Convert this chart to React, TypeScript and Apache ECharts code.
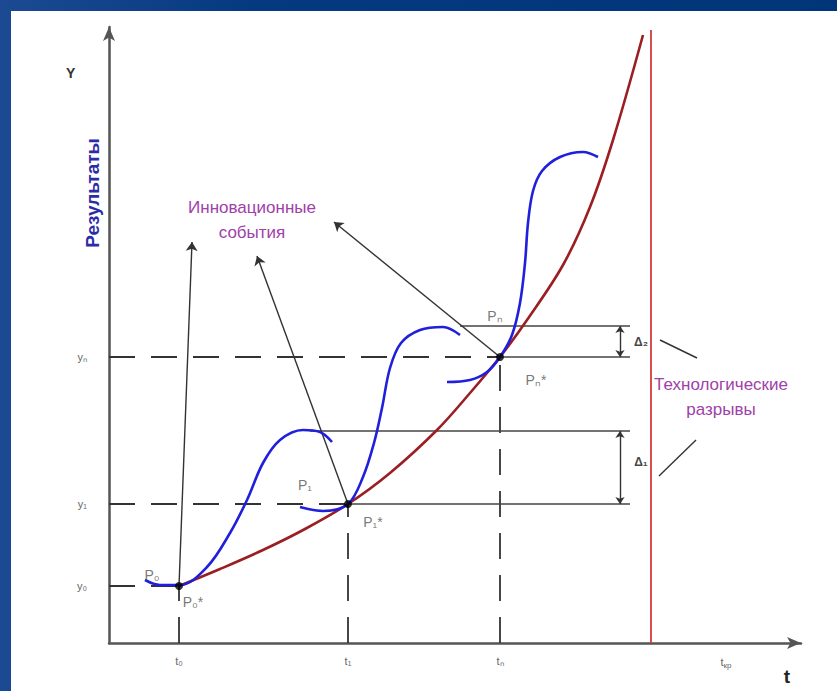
import React, { useEffect, useRef } from "react";
import * as echarts from "echarts";

// Coordinates are in chart units: x = time (0..692), y = result (0..616)
const X_MAX = 692;
const Y_MAX = 616;

// Main (envelope) curve of results
const mainCurve: number[][] = [
  [70, 57], [111, 74], [154, 93], [196, 114], [239, 139], [281, 170],
  [328, 213], [361, 250], [391, 286], [418, 323], [454, 378], [481, 436],
  [504, 503], [534, 608],
];

// S-curves of innovation cycles
const sCurve1: number[][] = [
  [36, 63], [51, 58], [71, 58], [98, 76], [121, 110], [138, 143], [154, 180],
  [171, 203], [194, 213], [211, 211], [223, 201],
];
const sCurve2: number[][] = [
  [191, 136], [214, 132], [239, 139], [254, 166], [265, 200], [273, 235],
  [281, 275], [292, 300], [311, 313], [334, 316], [351, 308],
];
const sCurve3: number[][] = [
  [338, 261], [361, 263], [378, 271], [391, 286], [403, 308], [411, 340],
  [416, 380], [419, 420], [424, 452], [433, 472], [451, 486], [474, 491],
  [489, 486],
];

// Key points P0*, P1*, Pn*
const keyPoints: number[][] = [[70, 57], [239, 139], [391, 286]];

// Tick values and labels
const xTickValues = [70, 239, 391, 617];
const xTickLabels = ["t₀", "t₁", "tₙ", "{m|t}{s|кр}"];
const yTickValues = [57, 139, 286];
const yTickLabels = ["y₀", "y₁", "yₙ"];

// Dashed guide lines
const dashedGuides: number[][][] = [
  [[0, 57], [70, 57]],
  [[0, 139], [239, 139]],
  [[0, 286], [391, 286]],
  [[70, 0], [70, 57]],
  [[239, 0], [239, 139]],
  [[391, 0], [391, 286]],
];

// Solid level lines of gaps
const levelLines: number[][][] = [
  [[201, 212], [521, 212]],
  [[239, 139], [521, 139]],
  [[351, 317], [521, 317]],
  [[391, 286], [521, 286]],
];

// Double arrows (gaps)
const gapArrows: number[][][] = [
  [[511, 212], [511, 139]],
  [[511, 317], [511, 286]],
];

// Pointer lines to "Технологические разрывы"
const gapPointers: number[][][] = [
  [[551, 303], [588, 285]],
  [[550, 167], [587, 203]],
];

// Arrows to "Инновационные события"
const eventArrows: number[][][] = [
  [[70, 57], [83, 401]],
  [[239, 139], [148, 387]],
  [[391, 286], [225, 421]],
];

// Critical time line
const criticalLine: number[][] = [[542, 0], [542, 613]];

// Point labels
const pointLabels: { name: string; value: number[] }[] = [
  { name: "P₀", value: [43, 68] },
  { name: "P₀*", value: [84, 41] },
  { name: "P₁", value: [196, 158] },
  { name: "P₁*", value: [264, 121] },
  { name: "Pₙ", value: [386, 327] },
  { name: "Pₙ*", value: [427, 263] },
];
const deltaLabels: { name: string; value: number[] }[] = [
  { name: "Δ₂", value: [532, 301] },
  { name: "Δ₁", value: [532, 181] },
];

const FONT = "Liberation Sans, Arial, sans-serif";

export default function App() {
  const ref = useRef<HTMLDivElement>(null);

  useEffect(() => {
    if (!ref.current) return;
    const chart = echarts.init(ref.current, null, { renderer: "svg" });
    const toLines = (arr: number[][][]) => arr.map((c) => ({ coords: c }));

    chart.setOption({
      animation: false,
      backgroundColor: "transparent",
      textStyle: { fontFamily: FONT },
      grid: { left: 109, right: 36, top: 27, bottom: 48 },
      xAxis: {
        type: "value",
        min: 0,
        max: X_MAX,
        splitLine: { show: false },
        axisTick: { show: false },
        axisLine: {
          show: true,
          lineStyle: { color: "#555", width: 2.5 },
          symbol: ["none", "arrow"],
          symbolSize: [9, 14],
        },
        axisLabel: {
          customValues: xTickValues,
          margin: 12,
          color: "#666",
          fontSize: 11,
          fontFamily: FONT,
          formatter: (v: number) => xTickLabels[xTickValues.indexOf(v)] ?? "",
          rich: {
            m: { fontSize: 11, color: "#666", fontFamily: FONT },
            s: { fontSize: 8, color: "#666", fontFamily: FONT, padding: [6, 0, 0, 0] },
          },
        },
      },
      yAxis: {
        type: "value",
        min: 0,
        max: Y_MAX,
        splitLine: { show: false },
        axisTick: { show: false },
        axisLine: {
          show: true,
          lineStyle: { color: "#555", width: 2.5 },
          symbol: ["none", "arrow"],
          symbolSize: [9, 14],
        },
        axisLabel: {
          customValues: yTickValues,
          margin: 22,
          color: "#666",
          fontSize: 11,
          fontFamily: FONT,
          formatter: (v: number) => yTickLabels[yTickValues.indexOf(v)] ?? "",
        },
      },
      graphic: [
        {
          type: "text",
          left: 66,
          top: 66,
          style: { text: "Y", fontSize: 14, fontWeight: "bold", fill: "#333", fontFamily: FONT },
        },
        {
          type: "text",
          x: 92,
          y: 193,
          rotation: Math.PI / 2,
          style: {
            text: "Результаты",
            fontSize: 19,
            fontWeight: "bold",
            fill: "#2c2ca6",
            fontFamily: FONT,
            align: "center",
            verticalAlign: "middle",
          },
        },
        {
          type: "text",
          x: 787,
          y: 676,
          style: {
            text: "t",
            fontSize: 19,
            fontWeight: "bold",
            fill: "#222",
            fontFamily: FONT,
            align: "center",
            verticalAlign: "middle",
          },
        },
        {
          type: "text",
          x: 252,
          y: 220,
          style: {
            text: "Инновационные\nсобытия",
            fontSize: 17,
            lineHeight: 25,
            fill: "#a040a8",
            fontFamily: FONT,
            align: "center",
            verticalAlign: "middle",
          },
        },
        {
          type: "text",
          x: 721,
          y: 397,
          style: {
            text: "Технологические\nразрывы",
            fontSize: 17,
            lineHeight: 25,
            fill: "#a040a8",
            fontFamily: FONT,
            align: "center",
            verticalAlign: "middle",
          },
        },
      ],
      series: [
        {
          type: "lines",
          coordinateSystem: "cartesian2d",
          name: "guides",
          data: toLines(dashedGuides),
          symbol: ["none", "none"],
          lineStyle: { color: "#333", width: 1.8, type: [26, 16], opacity: 1 },
        },
        {
          type: "lines",
          coordinateSystem: "cartesian2d",
          name: "levels",
          data: toLines(levelLines),
          symbol: ["none", "none"],
          lineStyle: { color: "#444", width: 1.6, opacity: 1 },
        },
        {
          type: "lines",
          coordinateSystem: "cartesian2d",
          name: "gaps",
          data: toLines(gapArrows),
          symbol: ["arrow", "arrow"],
          symbolSize: 7,
          lineStyle: { color: "#333", width: 1.4, opacity: 1 },
        },
        {
          type: "lines",
          coordinateSystem: "cartesian2d",
          name: "pointers",
          data: toLines(gapPointers),
          symbol: ["none", "none"],
          lineStyle: { color: "#333", width: 1.4, opacity: 1 },
        },
        {
          type: "lines",
          coordinateSystem: "cartesian2d",
          name: "events",
          data: toLines(eventArrows),
          symbol: ["none", "arrow"],
          symbolSize: 9,
          lineStyle: { color: "#333", width: 1.4, opacity: 1 },
        },
        {
          type: "lines",
          coordinateSystem: "cartesian2d",
          name: "critical",
          data: [{ coords: criticalLine }],
          symbol: ["none", "none"],
          lineStyle: { color: "#d43a3a", width: 1.8, opacity: 1 },
        },
        {
          type: "line",
          name: "main",
          data: mainCurve,
          smooth: 0.35,
          showSymbol: false,
          lineStyle: { color: "#9b1e22", width: 2.6 },
          z: 3,
        },
        ...[sCurve1, sCurve2, sCurve3].map((d, i) => ({
          type: "line",
          name: "s" + i,
          data: d,
          smooth: 0.35,
          showSymbol: false,
          lineStyle: { color: "#1f1fdc", width: 2.6 },
          z: 4,
        })),
        {
          type: "scatter",
          name: "points",
          data: keyPoints,
          symbol: "circle",
          symbolSize: 8,
          itemStyle: { color: "#000" },
          z: 6,
        },
        {
          type: "scatter",
          name: "plabels",
          data: pointLabels,
          symbolSize: 0,
          label: {
            show: true,
            position: "inside",
            formatter: "{b}",
            color: "#555",
            fontSize: 14,
            fontFamily: FONT,
          },
          z: 6,
        },
        {
          type: "scatter",
          name: "dlabels",
          data: deltaLabels,
          symbolSize: 0,
          label: {
            show: true,
            position: "inside",
            formatter: "{b}",
            color: "#111",
            fontSize: 12,
            fontWeight: "bold",
            fontFamily: FONT,
          },
          z: 6,
        },
      ],
    });
    return () => chart.dispose();
  }, []);

  return (
    <div
      style={{
        position: "fixed",
        left: 0,
        top: 0,
        width: 837,
        height: 691,
        background: "linear-gradient(90deg, #1b4a92 0%, #053a80 30%, #00357a 100%)",
      }}
    >
      <div
        style={{
          position: "absolute",
          left: 11,
          top: 11,
          right: 0,
          bottom: 0,
          background: "#ffffff",
        }}
      />
      <div ref={ref} style={{ position: "absolute", left: 0, top: 0, width: 837, height: 691 }} />
    </div>
  );
}
